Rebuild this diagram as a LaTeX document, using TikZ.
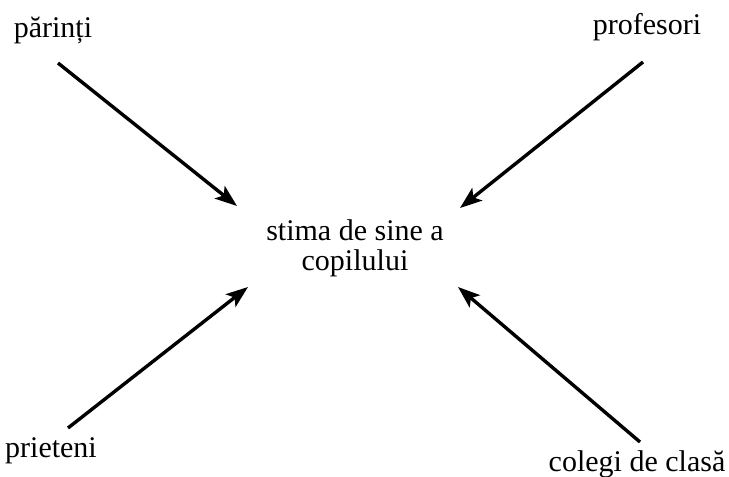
\documentclass[tikz,border=0pt]{standalone}
\usepackage{fontspec}
\setmainfont{Liberation Serif}
\usetikzlibrary{arrows.meta}
\tikzstyle{label} = [inner sep=0pt, anchor=base, font=\fontsize{15}{15}\selectfont]
\tikzstyle{centre} = [inner sep=0pt, align=center, font=\fontsize{15}{15}\selectfont]
\tikzstyle{arrow} = [line width=1.7pt,-{Stealth[length=11pt,width=8pt,inset=2.5pt]}]

\begin{document}
\begin{tikzpicture}[x=0.5pt, y=-0.5pt]
\useasboundingbox (0,0) rectangle (729,477);

\node (stima) [centre] at (355,248) {stima de sine a\\copilului};

\node (parinti) [label] at (53,37) {părinți};
\node (profesori) [label] at (647,34) {profesori};
\node (prieteni) [label] at (51,457) {prieteni};
\node (colegi) [label] at (637,471) {colegi de clasă};

% arrow ends
\coordinate (parintiA) at (58,63);
\coordinate (parintiB) at (237,206);
\coordinate (profesoriA) at (643,62);
\coordinate (profesoriB) at (460,208);
\coordinate (prieteniA) at (68,428);
\coordinate (prieteniB) at (248,287);
\coordinate (colegiA) at (640,442);
\coordinate (colegiB) at (458,287);

% Arrows
\draw [arrow] (parintiA) -- (parintiB);
\draw [arrow] (profesoriA) -- (profesoriB);
\draw [arrow] (prieteniA) -- (prieteniB);
\draw [arrow] (colegiA) -- (colegiB);

\end{tikzpicture}
\end{document}
